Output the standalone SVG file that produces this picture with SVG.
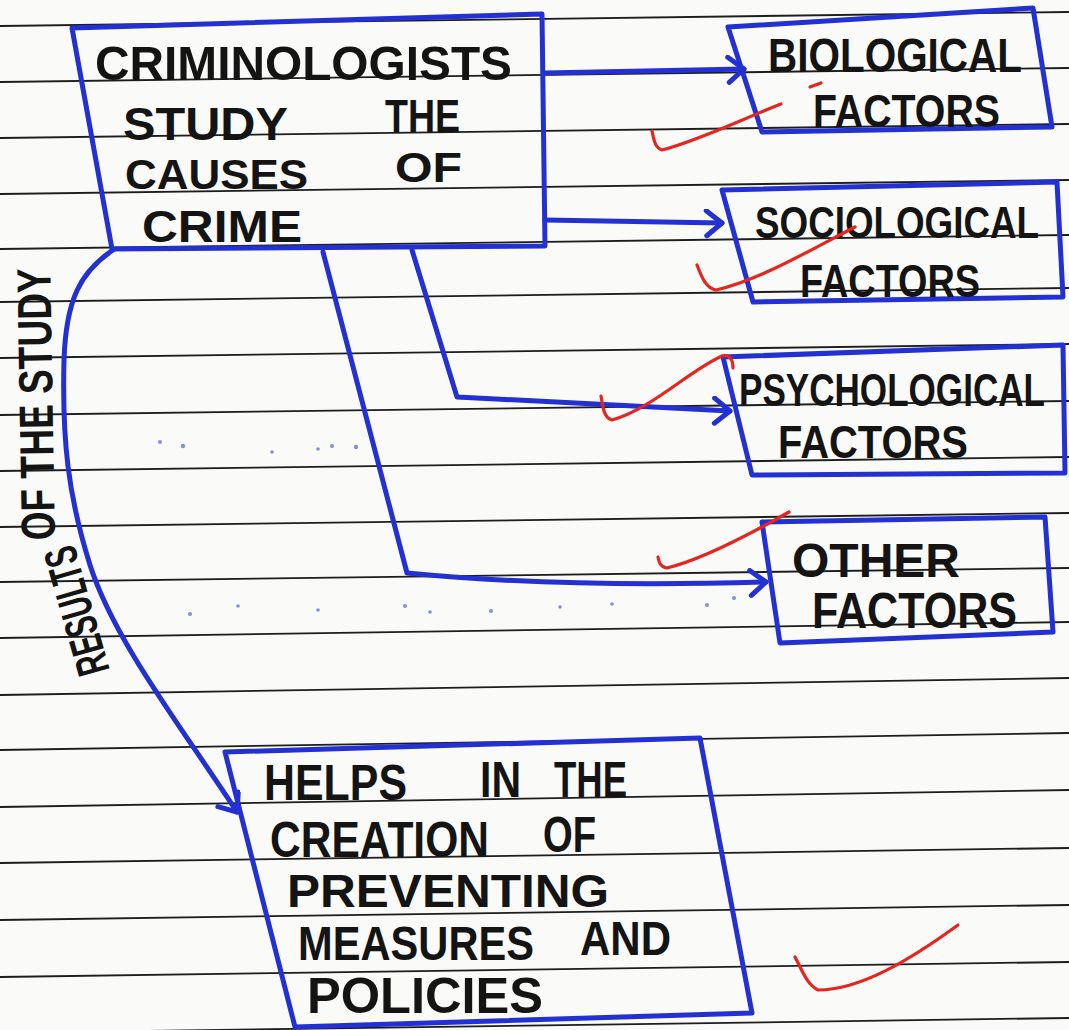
<svg xmlns="http://www.w3.org/2000/svg" width="1069" height="1030" viewBox="0 0 1069 1030">
  <defs>
    <style>
      .rule { stroke: #1d1d1d; stroke-width: 1.8; fill: none; }
      .box { stroke: #2330d2; stroke-width: 5; fill: none; stroke-linejoin: round; }
      .conn { stroke: #2330d2; stroke-width: 5; fill: none; stroke-linejoin: round; stroke-linecap: round; }
      .tick { stroke: #e3261f; stroke-width: 3.2; fill: none; stroke-linecap: round; stroke-linejoin: round; }
      .t { font-family: "Liberation Sans", "DejaVu Sans", sans-serif; font-weight: 700; fill: #141414; }
      .speck { fill: #3444c8; opacity: 0.6; }
    </style>
    <marker id="arr" markerUnits="userSpaceOnUse" markerWidth="32" markerHeight="32" refX="20" refY="14" orient="auto">
      <path d="M4,2 L20,14 L5,27" stroke="#2330d2" stroke-width="5" fill="none" stroke-linecap="round" stroke-linejoin="round"/>
    </marker>
  </defs>

  <rect x="0" y="0" width="1069" height="1030" fill="#fafaf8"/>

  <g id="paper-lines">
    <line class="rule" x1="0" y1="26" x2="1069" y2="12"/>
    <line class="rule" x1="0" y1="82" x2="1069" y2="68"/>
    <line class="rule" x1="0" y1="138" x2="1069" y2="124"/>
    <line class="rule" x1="0" y1="194" x2="1069" y2="180"/>
    <line class="rule" x1="0" y1="249" x2="1069" y2="235"/>
    <line class="rule" x1="0" y1="302" x2="1069" y2="288"/>
    <line class="rule" x1="0" y1="358" x2="1069" y2="344"/>
    <line class="rule" x1="0" y1="415" x2="1069" y2="401"/>
    <line class="rule" x1="0" y1="471" x2="1069" y2="457"/>
    <line class="rule" x1="0" y1="527" x2="1069" y2="513"/>
    <line class="rule" x1="0" y1="582" x2="1069" y2="568"/>
    <line class="rule" x1="0" y1="638" x2="1069" y2="622"/>
    <line class="rule" x1="0" y1="695" x2="1069" y2="678"/>
    <line class="rule" x1="0" y1="750" x2="1069" y2="733"/>
    <line class="rule" x1="0" y1="807" x2="1069" y2="790"/>
    <line class="rule" x1="0" y1="863" x2="1069" y2="848"/>
    <line class="rule" x1="0" y1="920" x2="1069" y2="905"/>
    <line class="rule" x1="0" y1="977" x2="1069" y2="962"/>
    <line class="rule" x1="0" y1="1033" x2="1069" y2="1018"/>
  </g>

  <g id="specks">
    <circle class="speck" cx="160" cy="442" r="2"/>
    <circle class="speck" cx="183" cy="446" r="2.2"/>
    <circle class="speck" cx="272" cy="452" r="1.8"/>
    <circle class="speck" cx="318" cy="449" r="1.8"/>
    <circle class="speck" cx="332" cy="446" r="2"/>
    <circle class="speck" cx="356" cy="447" r="2.2"/>
    <circle class="speck" cx="190" cy="614" r="2"/>
    <circle class="speck" cx="238" cy="606" r="1.8"/>
    <circle class="speck" cx="318" cy="610" r="1.8"/>
    <circle class="speck" cx="405" cy="606" r="2"/>
    <circle class="speck" cx="430" cy="612" r="1.8"/>
    <circle class="speck" cx="491" cy="611" r="2"/>
    <circle class="speck" cx="560" cy="607" r="1.8"/>
    <circle class="speck" cx="612" cy="604" r="1.8"/>
    <circle class="speck" cx="707" cy="605" r="2"/>
    <circle class="speck" cx="734" cy="598" r="2"/>
  </g>

  <g id="connectors">
    <path class="conn" d="M545,73 L744,69" marker-end="url(#arr)"/>
    <path class="conn" d="M545,220 L722,223" marker-end="url(#arr)"/>
    <path class="conn" d="M412,250 L457,397 L730,411" marker-end="url(#arr)"/>
    <path class="conn" d="M323,252 L407,573 Q560,588 766,582" marker-end="url(#arr)"/>
    <path class="conn" d="M113,250 C80,272 66,300 64,360 C62,440 68,495 90,565 C114,640 178,722 237,812" marker-end="url(#arr)"/>
    <g id="label-results">
      <text class="t" font-size="46" transform="translate(110,670) rotate(-106)" x="0" y="0" textLength="132" lengthAdjust="spacingAndGlyphs">RESULTS</text>
      <text class="t" font-size="48" transform="translate(55,540) rotate(-91)" x="0" y="0" textLength="272" lengthAdjust="spacingAndGlyphs">OF THE STUDY</text>
    </g>
  </g>

  <g id="n-main">
    <polygon class="box" points="72,28 542,14 545,246 112,249"/>
    <text class="t" font-size="49" x="95" y="80" textLength="417" lengthAdjust="spacingAndGlyphs">CRIMINOLOGISTS</text>
    <text class="t" font-size="46"><tspan x="123" y="140" textLength="164" lengthAdjust="spacingAndGlyphs">STUDY</tspan> <tspan x="385" y="132" textLength="75" lengthAdjust="spacingAndGlyphs">THE</tspan></text>
    <text class="t" font-size="42"><tspan x="125" y="189" textLength="183" lengthAdjust="spacingAndGlyphs">CAUSES</tspan> <tspan x="395" y="182" textLength="67" lengthAdjust="spacingAndGlyphs">OF</tspan></text>
    <text class="t" font-size="45" x="142" y="242" textLength="160" lengthAdjust="spacingAndGlyphs">CRIME</text>
  </g>

  <g id="n-biological">
    <polygon class="box" points="728,27 1033,8 1052,127 762,132"/>
    <text class="t" font-size="48" x="768" y="72" textLength="254" lengthAdjust="spacingAndGlyphs">BIOLOGICAL</text>
    <text class="t" font-size="47" x="813" y="127" textLength="187" lengthAdjust="spacingAndGlyphs">FACTORS</text>
  </g>

  <g id="n-sociological">
    <polygon class="box" points="722,190 1057,182 1063,297 753,302"/>
    <text class="t" font-size="44" x="755" y="238" textLength="284" lengthAdjust="spacingAndGlyphs">SOCIOLOGICAL</text>
    <text class="t" font-size="47" x="800" y="297" textLength="180" lengthAdjust="spacingAndGlyphs">FACTORS</text>
  </g>

  <g id="n-psychological">
    <polygon class="box" points="723,357 1063,345 1065,473 752,475"/>
    <text class="t" font-size="47" x="739" y="406" textLength="306" lengthAdjust="spacingAndGlyphs">PSYCHOLOGICAL</text>
    <text class="t" font-size="46" x="778" y="458" textLength="190" lengthAdjust="spacingAndGlyphs">FACTORS</text>
  </g>

  <g id="n-other">
    <polygon class="box" points="762,522 1045,517 1053,632 780,643"/>
    <text class="t" font-size="48" x="792" y="577" textLength="168" lengthAdjust="spacingAndGlyphs">OTHER</text>
    <text class="t" font-size="50" x="812" y="628" textLength="205" lengthAdjust="spacingAndGlyphs">FACTORS</text>
  </g>

  <g id="n-helps">
    <polygon class="box" points="225,752 700,738 752,1013 295,1027"/>
    <text class="t" font-size="50"><tspan x="264" y="800" textLength="143" lengthAdjust="spacingAndGlyphs">HELPS</tspan> <tspan x="480" y="797" textLength="41" lengthAdjust="spacingAndGlyphs">IN</tspan> <tspan x="554" y="797" textLength="73" lengthAdjust="spacingAndGlyphs">THE</tspan></text>
    <text class="t" font-size="50"><tspan x="270" y="857" textLength="219" lengthAdjust="spacingAndGlyphs">CREATION</tspan> <tspan x="543" y="852" textLength="53" lengthAdjust="spacingAndGlyphs">OF</tspan></text>
    <text class="t" font-size="46" x="287" y="907" textLength="322" lengthAdjust="spacingAndGlyphs">PREVENTING</text>
    <text class="t" font-size="48"><tspan x="298" y="960" textLength="236" lengthAdjust="spacingAndGlyphs">MEASURES</tspan> <tspan x="580" y="955" textLength="91" lengthAdjust="spacingAndGlyphs">AND</tspan></text>
    <text class="t" font-size="50" x="307" y="1013" textLength="236" lengthAdjust="spacingAndGlyphs">POLICIES</text>
  </g>

  <g id="ticks">
    <path class="tick" d="M652,131 C654,140 655,148 662,150 C700,140 740,120 781,104"/>
    <path class="tick" d="M810,87 L821,83"/>
    <path class="tick" d="M697,265 C702,278 706,288 716,290 C760,280 810,250 855,227"/>
    <path class="tick" d="M601,396 C603,408 604,418 612,420 C650,410 690,370 722,356 C730,354 733,360 733,368"/>
    <path class="tick" d="M658,557 C659,562 660,567 667,568 C700,560 740,540 789,512"/>
    <path class="tick" d="M795,957 C802,970 807,985 818,990 C860,990 910,960 958,925"/>
  </g>
</svg>
